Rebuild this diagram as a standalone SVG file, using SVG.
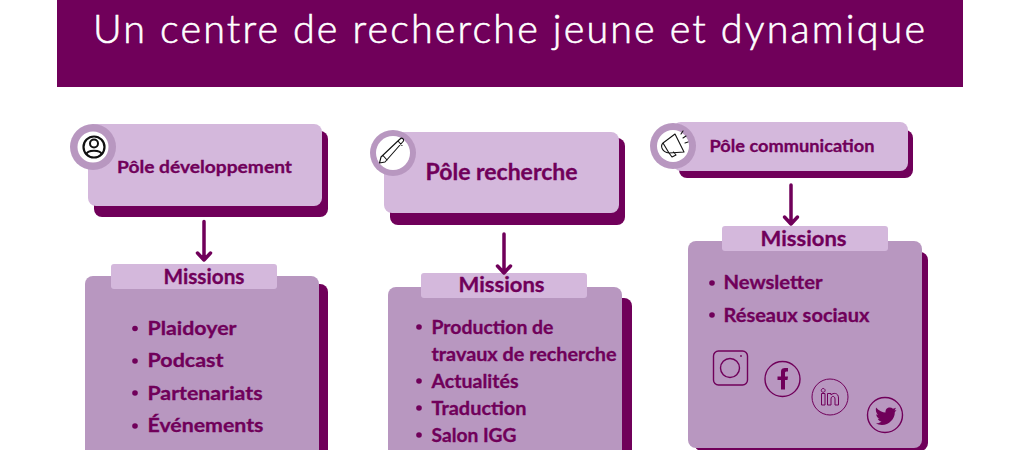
<svg xmlns="http://www.w3.org/2000/svg" width="1020" height="450" viewBox="0 0 1020 450">
<style>
.d{fill:#70005a}.l{fill:#d4b8dc}.m{fill:#b897c0}.w{fill:#fff}
text{font-family:"Lato","Liberation Sans",sans-serif;font-weight:700;fill:#70005a;stroke:#70005a;stroke-width:.3}
.t{font-size:39.500px;font-weight:300;fill:#fff;stroke:#fff;stroke-width:.6}
.h{font-size:21px}.p{font-size:17px}.i{font-size:18px}
.a{fill:none;stroke:#70005a;stroke-width:3.500;stroke-linecap:round;stroke-linejoin:round}
.s{fill:none;stroke:#70005a;stroke-width:1.400}
.k{fill:none;stroke:#111;stroke-width:1.100;stroke-linejoin:round;stroke-linecap:round}
</style>
<rect width="1020" height="450" fill="#fff"/>
<g id="banner"><rect class="d" x="57" y="0" width="906" height="87"/>
<text class="t" x="93" y="43" textLength="832" lengthAdjust="spacing">Un centre de recherche jeune et dynamique</text></g>

<g id="pole-developpement">
<rect class="d" x="94" y="131" width="234" height="86" rx="8"/>
<rect class="l" x="88" y="124" width="234" height="82" rx="8"/>
<circle class="m" cx="93" cy="147" r="23"/><circle class="w" cx="93" cy="147" r="15.500"/>
<circle cx="94" cy="147" r="10.500" fill="none" stroke="#111" stroke-width="2.200"/><circle cx="94" cy="143.500" r="4" fill="none" stroke="#111" stroke-width="2"/><path d="M86.500 154.500 C87 149.500 101 149.500 101.500 154.500" fill="none" stroke="#111" stroke-width="2"/>
<text class="p" x="117" y="173" textLength="175" lengthAdjust="spacingAndGlyphs">Pôle développement</text>
</g>
<g id="missions-developpement">
<rect class="d" x="95" y="284" width="233" height="180" rx="8"/>
<rect class="m" x="85" y="276" width="234" height="190" rx="8"/>
<rect class="l" x="111" y="264" width="166" height="25" rx="3"/>
<text class="h" x="163.500" y="284" textLength="81" lengthAdjust="spacingAndGlyphs">Missions</text>
<g class="d"><circle cx="135" cy="328.500" r="2.800"/><circle cx="135" cy="361" r="2.800"/><circle cx="135" cy="393" r="2.800"/><circle cx="135" cy="426" r="2.800"/></g>
<text class="i" x="147.500" y="335" textLength="89" lengthAdjust="spacingAndGlyphs">Plaidoyer</text>
<text class="i" x="147.500" y="367" textLength="76" lengthAdjust="spacingAndGlyphs">Podcast</text>
<text class="i" x="147.500" y="400" textLength="115" lengthAdjust="spacingAndGlyphs">Partenariats</text>
<text class="i" x="147.500" y="432" textLength="116" lengthAdjust="spacingAndGlyphs">Événements</text>
</g>

<g id="pole-recherche">
<rect class="d" x="390" y="138" width="235" height="87" rx="8"/>
<rect class="l" x="384" y="132" width="235" height="81" rx="8"/>
<circle class="m" cx="393" cy="153" r="23"/><circle class="w" cx="393" cy="153" r="17"/>
<path class="k" d="M379.500 163 L381 157 L400 139 C402 137 404 139 403.500 141 L385 162 Z M383 155.500 L387 160 M398 141 L402 145.500"/>
<text class="h" x="425.500" y="180" textLength="152" lengthAdjust="spacingAndGlyphs" style="font-size:22px">Pôle recherche</text>
</g>
<g id="missions-recherche">
<rect class="d" x="398" y="298" width="234" height="170" rx="8"/>
<rect class="m" x="388" y="287" width="234" height="180" rx="8"/>
<rect class="l" x="421" y="273" width="166" height="25" rx="3"/>
<text class="h" x="458.500" y="292" textLength="86" lengthAdjust="spacingAndGlyphs">Missions</text>
<g class="d"><circle cx="419" cy="327" r="2.800"/><circle cx="419" cy="381" r="2.800"/><circle cx="419" cy="408" r="2.800"/><circle cx="419" cy="435" r="2.800"/></g>
<text class="i" x="431.500" y="334" textLength="122" lengthAdjust="spacingAndGlyphs">Production de</text>
<text class="i" x="431.500" y="361" textLength="185" lengthAdjust="spacingAndGlyphs">travaux de recherche</text>
<text class="i" x="431.500" y="388" textLength="87" lengthAdjust="spacingAndGlyphs">Actualités</text>
<text class="i" x="431.500" y="415" textLength="95" lengthAdjust="spacingAndGlyphs">Traduction</text>
<text class="i" x="431.500" y="442" textLength="85" lengthAdjust="spacingAndGlyphs">Salon IGG</text>
</g>

<g id="pole-communication">
<rect class="d" x="679" y="130" width="234" height="48" rx="8"/>
<rect class="l" x="673" y="122" width="235" height="49" rx="8"/>
<circle class="m" cx="673" cy="146" r="23"/><circle class="w" cx="673" cy="146" r="16"/>
<path class="k" d="M663 143 L675 134 L684 152 L669 153 Z M663 143 C660 146 662 152 669 153 M669 153 L672 157 L676 155 L673.500 152 M681 134 L683 131 M685 143 L688 142 M683 138 L686 136"/>
<text class="p" x="709.500" y="152" textLength="165" lengthAdjust="spacingAndGlyphs">Pôle communication</text>
</g>
<g id="missions-communication">
<rect class="d" x="694" y="252" width="234" height="199" rx="8"/>
<rect class="m" x="688" y="241" width="234" height="207" rx="8"/>
<rect class="l" x="722" y="226" width="166" height="25" rx="3"/>
<text class="h" x="760.500" y="246" textLength="86" lengthAdjust="spacingAndGlyphs">Missions</text>
<g class="d"><circle cx="712" cy="283" r="2.800"/><circle cx="712" cy="315" r="2.800"/></g>
<text class="i" x="723.500" y="289" textLength="99" lengthAdjust="spacingAndGlyphs">Newsletter</text>
<text class="i" x="723.500" y="322" textLength="146" lengthAdjust="spacingAndGlyphs">Réseaux sociaux</text>
</g>
<g id="icon-instagram"><rect class="s" x="713.500" y="351" width="34" height="34" rx="5"/><circle class="s" cx="730" cy="368" r="9.500"/><circle class="d" cx="741" cy="356" r="0.900"/></g>
<g id="icon-facebook"><circle class="s" cx="782.500" cy="379" r="17.500"/><path d="M777.500 376.500 H781 V372 C781 368 783 368 788 368 V371.500 C785.500 371.500 785 371.500 785 373 V376.500 H788 L787.500 380 H785 V389.500 H781 V380 H777.500 Z" class="d"/></g>
<g id="icon-linkedin"><circle class="s" cx="830" cy="397" r="18" style="stroke-width:1"/><path class="s" style="stroke-width:1" d="M821.500 393.500 H825 V405 H821.500 Z M823.200 388.500 a1.900 1.900 0 1 0 .01 0 Z M827.500 393.500 H831 V395 C833 392.500 838.500 392.500 838.500 398 V405 H835 V399 C835 395.500 831 395.500 831 399 V405 H827.500 Z"/></g>
<g id="icon-twitter"><circle class="s" cx="885" cy="415" r="17.500"/><path class="d" d="M876 407.500 C879 411 882.500 412.500 885.500 412.500 C885 408 890 406 893 408.800 L896 407.800 L894.500 410.500 L896.500 410 L894.800 412.300 C895 419 889 425 882 425 C879.500 425 877.500 424.300 876 423.300 C878.300 423.500 880 422.800 881.500 421.500 C879.500 421.300 878.300 420.300 877.800 418.800 L879.500 418.700 C877.500 418 876.300 416.500 876.300 414.300 L878 414.900 C876 413 875.500 410 876 407.500 Z"/></g>

<g id="connectors">
<path class="a" d="M204 221.500 V260 M197.500 253 L204 260 L210.500 253"/>
<path class="a" d="M504 234 V273 M497.500 266 L504 273 L510.500 266"/>
<path class="a" d="M791 185 V224 M784.500 217 L791 224 L797.500 217"/>
</g>
</svg>
